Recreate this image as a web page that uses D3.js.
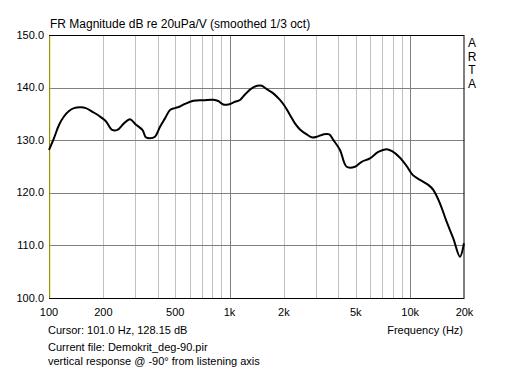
<!DOCTYPE html>
<html><head><meta charset="utf-8">
<script src="https://cdn.jsdelivr.net/npm/d3@7"></script>
<style>body{margin:0;background:#fff}svg{display:block}text{font-family:"Liberation Sans",Arial,sans-serif;fill:#000}</style>
</head><body>
<svg id="c" width="512" height="372"></svg>
<script>
const freqs = [100,106.6,113.6,121,129,137.5,150,160,174,189,206,224,239,260,281,302,329,344,362,386,412,439,468,498,531,566,630,715,813,866,923,984,1071,1142,1217,1326,1424,1506,1605,1746,1901,2027,2160,2302,2454,2673,2849,3036,3302,3565,3752,4088,4451,4948,5389,5990,6660,7410,7900,8700,9560,10320,11330,12600,13430,14620,15920,17330,18870,19860];
const dbs = [128.15,130.4,132.9,134.5,135.55,136.1,136.25,136.1,135.4,134.65,133.65,131.95,131.95,133.2,134.0,133.0,131.95,130.55,130.35,130.65,132.55,134.15,135.75,136.1,136.4,136.9,137.5,137.6,137.7,137.45,136.8,136.8,137.3,137.65,138.7,139.85,140.35,140.35,139.7,138.9,137.65,136.4,134.8,133.2,132.05,131.1,130.55,130.65,131.1,131.1,130.05,128.15,124.95,124.95,125.9,126.55,127.8,128.3,127.95,126.8,125.1,123.4,122.45,121.5,120.55,118.0,114.5,111.35,107.85,110.4];
const yTicks = [100,110,120,130,140,150];
const xLabelVals = [100,200,500,1000,2000,5000,10000,20000];
const xLabels = ["100","200","500","1k","2k","5k","10k","20k"];
const minorFreqs = [200,300,400,500,600,700,800,900,2000,3000,4000,5000,6000,7000,8000,9000];
const majorFreqs = [1000,10000];
const titleText = "FR Magnitude dB re 20uPa/V (smoothed 1/3 oct)";
const infoLines = ["Cursor: 101.0 Hz, 128.15 dB","Current file: Demokrit_deg-90.pir","vertical response @ -90° from listening axis"];
const brand = ["A","R","T","A"];

const L=49,R=464.5,T=35,B=298;
const svg=d3.select("#c");
const x=d3.scaleLog().domain([100,20000]).range([L,R]);
const y=d3.scaleLinear().domain([100,150]).range([B,T]);

svg.append("g").selectAll("line").data(minorFreqs).join("line")
 .attr("x1",d=>Math.round(x(d))+0.5).attr("x2",d=>Math.round(x(d))+0.5).attr("y1",T).attr("y2",B)
 .attr("stroke","#c0c0c0").attr("stroke-width",1);
svg.append("g").selectAll("line").data(majorFreqs).join("line")
 .attr("x1",d=>Math.round(x(d))+0.5).attr("x2",d=>Math.round(x(d))+0.5).attr("y1",T).attr("y2",B)
 .attr("stroke","#808080").attr("stroke-width",1);
svg.append("g").selectAll("line").data(yTicks.slice(1,-1)).join("line")
 .attr("x1",L).attr("x2",R).attr("y1",d=>Math.round(y(d))+0.5).attr("y2",d=>Math.round(y(d))+0.5)
 .attr("stroke","#808080").attr("stroke-width",1);

svg.append("rect").attr("x",L+0.5).attr("y",T+0.5).attr("width",R-L-1).attr("height",B-T)
 .attr("fill","none").attr("stroke","#000").attr("stroke-width",1);
svg.append("line").attr("x1",x(101)).attr("x2",x(101)).attr("y1",T+1).attr("y2",B)
 .attr("stroke","#c8c800").attr("stroke-width",1);

const line=d3.line().x((d,i)=>x(freqs[i])).y(d=>y(d)).curve(d3.curveCatmullRom);
svg.append("path").datum(dbs).attr("d",line).attr("fill","none").attr("stroke","#000").attr("stroke-width",2);

svg.append("g").selectAll("text").data(yTicks).join("text")
 .attr("x",44).attr("y",d=>y(d)).attr("dy","0.32em").attr("text-anchor","end").attr("font-size",11)
 .text(d=>d.toFixed(1));
svg.append("g").selectAll("text").data(xLabelVals).join("text")
 .attr("x",d=>x(d)).attr("y",312).attr("dy","0.35em").attr("text-anchor","middle").attr("font-size",11)
 .text((d,i)=>xLabels[i]);
svg.append("text").attr("x",50).attr("y",28).attr("font-size",12).text(titleText);
svg.append("text").attr("x",463).attr("y",330).attr("dy","0.35em").attr("text-anchor","end").attr("font-size",11).text("Frequency (Hz)");
svg.append("g").selectAll("text").data(infoLines).join("text")
 .attr("x",48).attr("y",(d,i)=>[330,347,361][i]).attr("dy","0.35em").attr("font-size",11).text(d=>d);
svg.append("g").selectAll("text").data(brand).join("text")
 .attr("x",472).attr("y",(d,i)=>43+i*13.5).attr("dy","0.35em").attr("text-anchor","middle").attr("font-size",12).text(d=>d);
</script></body></html>
